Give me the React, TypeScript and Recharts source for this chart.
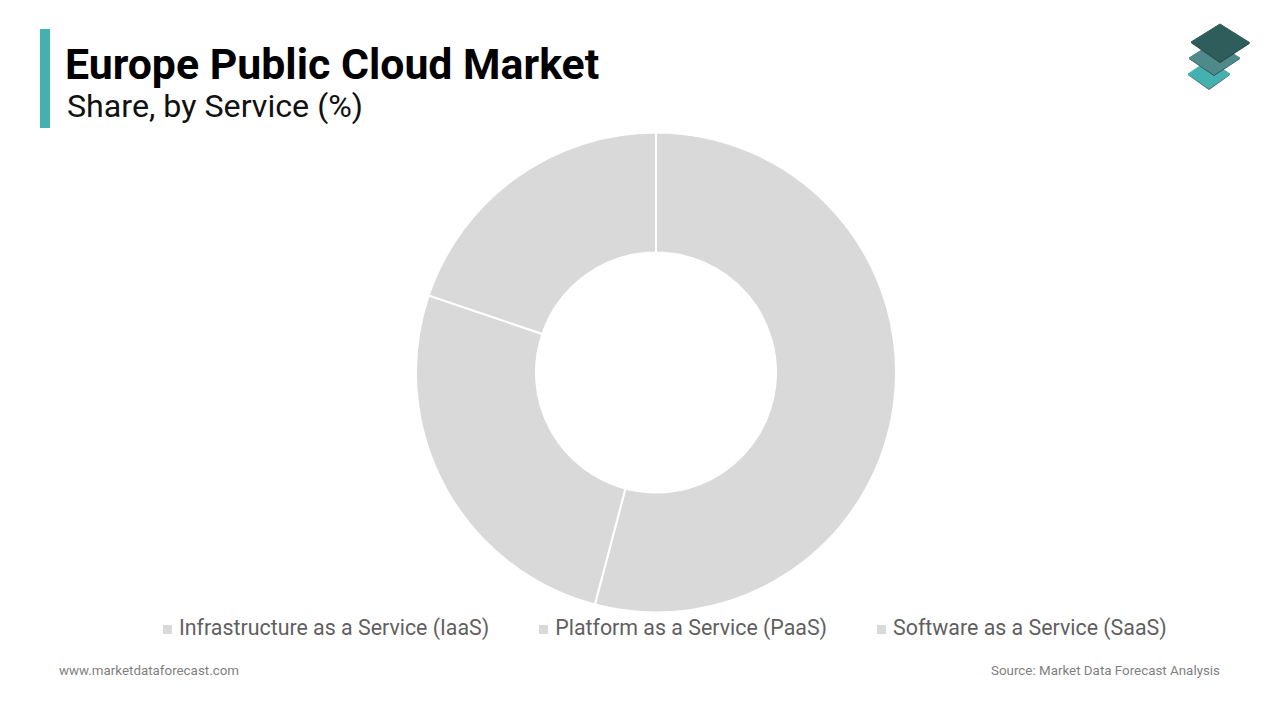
import { PieChart, Pie, Cell, Legend } from 'recharts';

const services = ['Infrastructure as a Service (IaaS)', 'Platform as a Service (PaaS)', 'Software as a Service (SaaS)'];
const shares = [54.1, 26.1, 19.8];
const sliceColors = ['#d9d9d9', '#d9d9d9', '#d9d9d9'];

const chartData = services.map((name, i) => ({ name, value: shares[i] }));

const FONT = 'Roboto, sans-serif';

function ServiceLegend({ payload }: any) {
  return (
    <div style={{ position: 'absolute', left: 163, top: 0, display: 'flex', whiteSpace: 'nowrap', fontFamily: FONT }}>
      {(payload || []).map((item: any) => (
        <div key={item.value} style={{ display: 'flex', alignItems: 'center', marginRight: 50 }}>
          <span style={{ width: 9, height: 9, background: item.color, marginRight: 7, marginTop: 2 }} />
          <span style={{ fontSize: 21.36, lineHeight: '26px', color: '#5f5f5f' }}>{item.value}</span>
        </div>
      ))}
    </div>
  );
}

export default function App() {
  return (
    <div style={{ position: 'absolute', left: 0, top: 0, width: 1280, height: 720, background: '#fff', overflow: 'hidden' }}>
      <div style={{ position: 'absolute', left: 40, top: 29, width: 10, height: 99, background: '#45b0b0' }} />
      <div style={{ position: 'absolute', left: 65, top: 39, fontFamily: FONT, fontWeight: 700, fontSize: 42.8, lineHeight: '50px', color: '#000', whiteSpace: 'nowrap' }}>
        Europe Public Cloud Market
      </div>
      <div style={{ position: 'absolute', left: 67, top: 87, fontFamily: FONT, fontSize: 32.2, lineHeight: '38px', color: '#111', whiteSpace: 'nowrap' }}>
        Share, by Service (%)
      </div>

      <PieChart width={1280} height={720} margin={{ top: 0, right: 0, bottom: 0, left: 0 }} style={{ position: 'absolute', left: 0, top: 0 }}>
        <Pie
          data={chartData}
          dataKey="value"
          nameKey="name"
          cx={656}
          cy={372.5}
          innerRadius={120}
          outerRadius={240}
          startAngle={90}
          endAngle={-270}
          stroke="#fff"
          strokeWidth={2}
          isAnimationActive={false}
        >
          {chartData.map((entry, i) => (
            <Cell key={entry.name} fill={sliceColors[i]} />
          ))}
        </Pie>
        <Legend content={ServiceLegend} wrapperStyle={{ position: 'absolute', left: 0, top: 615, width: 1280, height: 26 }} />
      </PieChart>

      <div style={{ position: 'absolute', left: 59, top: 662, fontFamily: FONT, fontSize: 13.36, lineHeight: '18px', color: '#7f7f7f', whiteSpace: 'nowrap' }}>
        www.marketdataforecast.com
      </div>
      <div style={{ position: 'absolute', right: 60, top: 662, fontFamily: FONT, fontSize: 13.36, lineHeight: '18px', color: '#7f7f7f', whiteSpace: 'nowrap' }}>
        Source: Market Data Forecast Analysis
      </div>

      <svg style={{ position: 'absolute', left: 1170, top: 10 }} width={100} height={90}>
        <polygon points="39,51 60,65 39,80 18,65" fill="#4a5f5f" />
        <polygon points="39,50 60,64 39,78.5 18,64" fill="#45b0b0" stroke="#45b0b0" strokeLinejoin="round" />
        <polygon points="44,33 70,49 44,66 19,49" fill="#3a4a4a" />
        <polygon points="44,32 70,48 44,64.5 19,48" fill="#4f8a8a" stroke="#4f8a8a" strokeLinejoin="round" />
        <polygon points="50,15 80,33.5 50,53 21,33" fill="#26403f" />
        <polygon points="50,14 79.5,32.5 50,51.5 21,32" fill="#2f5d5b" stroke="#2f5d5b" strokeLinejoin="round" />
      </svg>
    </div>
  );
}
